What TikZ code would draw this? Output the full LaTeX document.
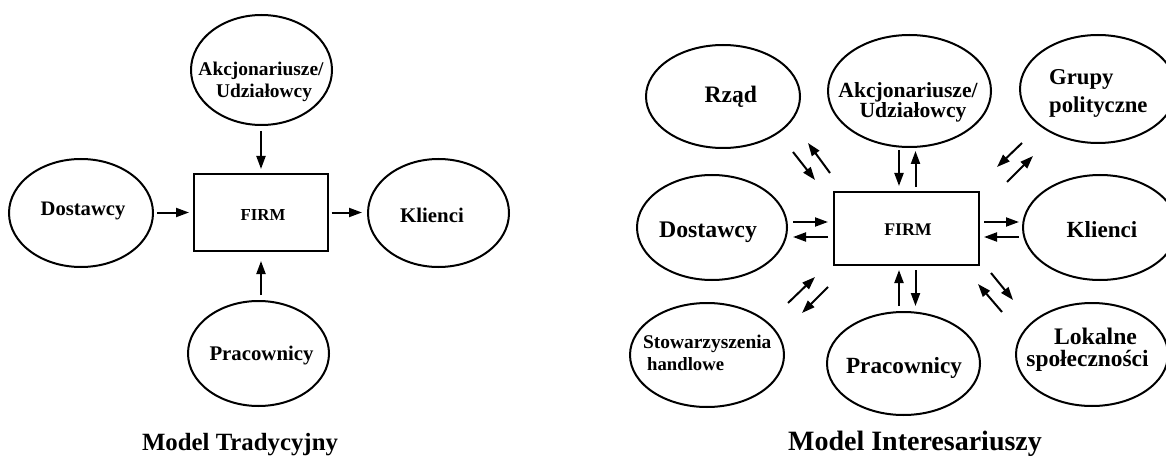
\documentclass[tikz,border=0pt]{standalone}
\usepackage{fontspec}
\setmainfont{Liberation Serif}
\usetikzlibrary{shapes.geometric,arrows.meta,calc}
\newcommand{\txtsize}[1]{\fontsize{#1}{#1}\selectfont}
\begin{document}
\begin{tikzpicture}[x=1pt,y=-1pt,
  oval/.style={draw, ellipse, line width=2pt, inner sep=0pt},
  firmbox/.style={draw, rectangle, line width=2pt, inner sep=0pt},
  lbl/.style={inner sep=0pt, anchor=base},
  lblw/.style={inner sep=0pt, anchor=base west},
  arr/.style={-{Triangle[length=13pt,width=9pt]}, line width=2pt},
]
\fill[white] (0,0) rectangle (1166,457);
\useasboundingbox (0,0) rectangle (1166,457);

% ---------- traditional model ----------
\node[oval, minimum width=141pt, minimum height=110pt] (akc1) at (261.5,70) {};
\node[oval, minimum width=144pt, minimum height=108pt] (dos1) at (81,213) {};
\node[oval, minimum width=141pt, minimum height=108pt] (kli1) at (438.5,213) {};
\node[oval, minimum width=141pt, minimum height=105pt] (pra1) at (258.5,353.5) {};
\node[firmbox, minimum width=134pt, minimum height=77pt] (firm1) at (261,212.5) {};

\node[lbl, font=\bfseries\txtsize{19.4}] (akc1a) at (261,76) {Akcjonariusze/};
\node[lbl, font=\bfseries\txtsize{19.4}] (akc1b) at (264,97.3) {Udziałowcy};
\node[lbl, font=\bfseries\txtsize{20.6}] (dos1t) at (83,215) {Dostawcy};
\node[lbl, font=\bfseries\txtsize{20.8}] (kli1t) at (432,222.5) {Klienci};
\node[lbl, font=\bfseries\txtsize{20.8}] (pra1t) at (261.5,360) {Pracownicy};
\node[lbl, font=\bfseries\txtsize{16.8}] (firm1t) at (263,220) {FIRM};
\node[lbl, font=\bfseries\txtsize{24.8}] (title1) at (240,450) {Model Tradycyjny};

\draw[arr, shorten <=5pt, shorten >=4pt] (akc1.south -| firm1.north) -- (firm1.north);
\draw[arr, shorten <=3pt, shorten >=4pt] (dos1.east |- firm1.west) -- (firm1.west);
\draw[arr, shorten <=2.5pt, shorten >=5pt] (firm1.east) -- (kli1.west |- firm1.east);
\draw[arr, shorten <=5pt, shorten >=9pt] (pra1.north -| firm1.south) -- (firm1.south);

% ---------- stakeholder model ----------
\node[oval, minimum width=154pt, minimum height=103pt] (rzad) at (723,96.5) {};
\node[oval, minimum width=163pt, minimum height=112pt] (akc2) at (909.5,91) {};
\node[oval, minimum width=156pt, minimum height=108pt] (gru) at (1098,89) {};
\node[oval, minimum width=150pt, minimum height=105pt] (dos2) at (712,227.5) {};
\node[oval, minimum width=154pt, minimum height=105pt] (kli2) at (1100,227.5) {};
\node[oval, minimum width=154pt, minimum height=104pt] (sto) at (707,355) {};
\node[oval, minimum width=153pt, minimum height=103pt] (pra2) at (903.5,363.5) {};
\node[oval, minimum width=152pt, minimum height=103pt] (lok) at (1092,354.5) {};
\node[firmbox, minimum width=145pt, minimum height=73pt] (firm2) at (906,228.5) {};

\node[lbl, font=\bfseries\txtsize{23.6}] (rzadt) at (730.8,102.7) {Rząd};
\node[lbl, font=\bfseries\txtsize{21.6}] (akc2a) at (908,98) {Akcjonariusze/};
\node[lbl, font=\bfseries\txtsize{21.6}] (akc2b) at (913,118) {Udziałowcy};
\node[lblw, font=\bfseries\txtsize{22.7}] (grua) at (1049,85) {Grupy};
\node[lblw, font=\bfseries\txtsize{22.7}] (grub) at (1049,113) {polityczne};
\node[lbl, font=\bfseries\txtsize{23.8}] (dos2t) at (708,237.3) {Dostawcy};
\node[lbl, font=\bfseries\txtsize{17.8}] (firm2t) at (908,235) {FIRM};
\node[lbl, font=\bfseries\txtsize{23.1}] (kli2t) at (1102,237) {Klienci};
\node[lblw, font=\bfseries\txtsize{19.4}] (stoa) at (643,348.3) {Stowarzyszenia};
\node[lblw, font=\bfseries\txtsize{18.7}] (stob) at (647,370) {handlowe};
\node[lbl, font=\bfseries\txtsize{23.2}] (pra2t) at (904,373.3) {Pracownicy};
\node[lbl, font=\bfseries\txtsize{23.7}] (loka) at (1095.5,344) {Lokalne};
\node[lbl, font=\bfseries\txtsize{23.4}] (lokb) at (1087.5,366.7) {społeczności};
\node[lbl, font=\bfseries\txtsize{28}] (title2) at (915,450.5) {Model Interesariuszy};

% attachment points on the firm box
\coordinate (fwT) at ($(firm2.west)+(0,-6.5)$);
\coordinate (fwB) at ($(firm2.west)+(0,8.5)$);
\coordinate (feT) at ($(firm2.east)+(0,-6.5)$);
\coordinate (feB) at ($(firm2.east)+(0,8.5)$);
\coordinate (fnL) at ($(firm2.north)+(-7,0)$);
\coordinate (fnR) at ($(firm2.north)+(9.5,0)$);
\coordinate (fsL) at ($(firm2.south)+(-7,0)$);
\coordinate (fsR) at ($(firm2.south)+(9.5,0)$);

% horizontal pairs
\draw[arr, shorten <=5pt, shorten >=4.5pt] (dos2.east |- fwT) -- (fwT);
\draw[arr, shorten <=4.5pt, shorten >=5pt] (fwB) -- (dos2.east |- fwB);
\draw[arr, shorten <=4.5pt, shorten >=3pt] (feT) -- (kli2.west |- feT);
\draw[arr, shorten <=3pt, shorten >=4.5pt] (kli2.west |- feB) -- (feB);

% vertical pairs
\draw[arr, shorten <=2pt, shorten >=5pt] (akc2.south -| fnL) -- (fnL);
\draw[arr, shorten <=4pt, shorten >=3pt] (fnR) -- (akc2.south -| fnR);
\draw[arr, shorten <=5pt, shorten >=4pt] (pra2.north -| fsL) -- (fsL);
\draw[arr, shorten <=4pt, shorten >=5pt] (fsR) -- (pra2.north -| fsR);

% diagonal pairs
\coordinate (rz1) at (793,152);  \coordinate (rz2) at (815,180);
\coordinate (rz3) at (830,173);  \coordinate (rz4) at (808,143);
\coordinate (gr1) at (1022,143); \coordinate (gr2) at (997,167);
\coordinate (gr3) at (1007,182); \coordinate (gr4) at (1033,156);
\coordinate (st1) at (788,303);  \coordinate (st2) at (815,277);
\coordinate (st3) at (828,287);  \coordinate (st4) at (802,313);
\coordinate (lk1) at (991,273);  \coordinate (lk2) at (1013,300);
\coordinate (lk3) at (1002,312); \coordinate (lk4) at (978,284);
\draw[arr] (rz1) -- (rz2);
\draw[arr] (rz3) -- (rz4);
\draw[arr] (gr1) -- (gr2);
\draw[arr] (gr3) -- (gr4);
\draw[arr] (st1) -- (st2);
\draw[arr] (st3) -- (st4);
\draw[arr] (lk1) -- (lk2);
\draw[arr] (lk3) -- (lk4);
\end{tikzpicture}
\end{document}
